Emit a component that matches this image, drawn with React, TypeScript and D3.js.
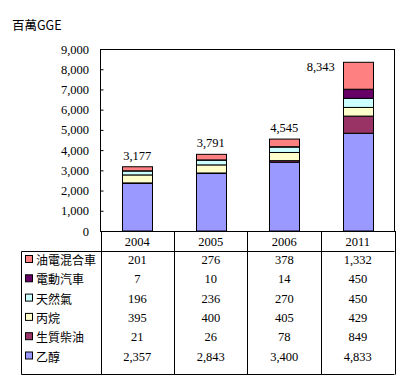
import React, { useEffect, useRef } from 'react';
import * as d3 from 'd3';

// data (million GGE)
const years = ['2004', '2005', '2006', '2011'];
const seriesNames = ['乙醇', '生質柴油', '丙烷', '天然氣', '電動汽車', '油電混合車'];
const seriesColors = ['#9999FF', '#993366', '#FFFFCC', '#CCFFFF', '#660066', '#FF8080'];
const ethanol = [2357, 2843, 3400, 4833];
const biodiesel = [21, 26, 78, 849];
const propane = [395, 400, 405, 429];
const naturalGas = [196, 236, 270, 450];
const electric = [7, 10, 14, 450];
const hybrid = [201, 276, 378, 1332];
const yTicks = [0, 1000, 2000, 3000, 4000, 5000, 6000, 7000, 8000, 9000];

const numFont = '"Liberation Serif", "DejaVu Serif", serif';
const cjkFont = '"Noto Sans CJK TC", "Noto Sans CJK SC", sans-serif';

export default function App() {
    const ref = useRef<SVGSVGElement>(null);

    useEffect(() => {
        const svg = d3.select(ref.current);
        svg.selectAll('*').remove();

        const left = 100.5, right = 394.5, top = 49, bottom = 231;
        const seriesValues = [ethanol, biodiesel, propane, naturalGas, electric, hybrid];

        const rows = years.map((yr, i) => {
            const r: any = { year: yr };
            seriesNames.forEach((n, k) => { r[n] = seriesValues[k][i]; });
            return r;
        });
        const stacked = d3.stack().keys(seriesNames)(rows);

        var x = d3.scaleBand().domain(years).range([left, right])
            .paddingInner(0.592).paddingOuter(0.296);
        var y = d3.scaleLinear().domain([0, 9000]).range([bottom, top]);

        // unit title
        svg.append('text')
            .attr('x', 12).attr('y', 30)
            .style('font-family', cjkFont).style('font-size', '12.5px')
            .text('百萬GGE');

        // plot frame
        svg.append('rect')
            .attr('x', left).attr('y', top + 0.5)
            .attr('width', right - left).attr('height', bottom - top)
            .attr('fill', 'none').attr('stroke', '#000');

        // y axis
        var yAxis = svg.append('g').attr('transform', `translate(${left},0)`)
            .call(d3.axisRight(y).tickValues(yTicks).tickSize(3).tickFormat(() => ''));
        yAxis.select('.domain').remove();
        yAxis.selectAll('line').attr('stroke', '#000');
        svg.append('g').selectAll('text').data(yTicks).enter().append('text')
            .attr('x', 89).attr('y', d => y(d) + 4.5)
            .attr('text-anchor', 'end')
            .style('font-family', numFont).style('font-size', '12.5px')
            .text(d => d3.format(',')(d));

        // bars
        const layers = svg.append('g').selectAll('g').data(stacked).enter().append('g')
            .attr('fill', (_, i) => seriesColors[i]);
        layers.selectAll('rect').data(d => d).enter().append('rect')
            .attr('x', (d: any) => Math.round(x(d.data.year)!) + 0.5)
            .attr('y', d => y(d[1]))
            .attr('width', Math.round(x.bandwidth()))
            .attr('height', d => y(d[0]) - y(d[1]))
            .attr('stroke', '#000').attr('stroke-width', 1);

        // totals
        const totals = years.map((_, i) => d3.sum(seriesValues, s => s[i]));
        svg.append('g').selectAll('text').data(totals).enter().append('text')
            .attr('x', (d, i) => i === 3 ? x(years[i])! - 8 : x(years[i])! + x.bandwidth() / 2)
            .attr('y', (d, i) => i === 3 ? y(d) + 9 : y(d) - 7)
            .attr('text-anchor', (d, i) => i === 3 ? 'end' : 'middle')
            .style('font-family', numFont).style('font-size', '12.5px')
            .text(d => d3.format(',')(d));

        // data table
        const tLeft = 21.5, hdrBottom = 251.5, tBottom = 374.5, rowH = 19.3;
        const colEdges = years.map(yr => x(yr)! - x.step() * x.paddingInner() / 2);
        colEdges.push(right);

        const grid = svg.append('g').attr('stroke', '#000').attr('fill', 'none');
        grid.append('line').attr('x1', tLeft).attr('x2', right).attr('y1', hdrBottom).attr('y2', hdrBottom);
        grid.append('line').attr('x1', tLeft).attr('x2', right).attr('y1', tBottom).attr('y2', tBottom);
        grid.append('line').attr('x1', tLeft).attr('x2', tLeft).attr('y1', hdrBottom).attr('y2', tBottom);
        colEdges.forEach(cx => {
            grid.append('line').attr('x1', Math.round(cx) + 0.5).attr('x2', Math.round(cx) + 0.5)
                .attr('y1', bottom).attr('y2', tBottom);
        });

        svg.append('g').selectAll('text').data(years).enter().append('text')
            .attr('x', d => x(d)! + x.bandwidth() / 2).attr('y', 246)
            .attr('text-anchor', 'middle')
            .style('font-family', numFont).style('font-size', '12.5px')
            .text(d => d);

        // rows top to bottom: reverse of stacking order
        const order = d3.range(seriesNames.length).reverse();
        order.forEach((k, r) => {
            const cy = 260 + r * rowH;
            svg.append('rect')
                .attr('x', 25.5).attr('y', cy - 4.5).attr('width', 7).attr('height', 7)
                .attr('fill', seriesColors[k]).attr('stroke', '#000');
            svg.append('text')
                .attr('x', 36).attr('y', cy + 5)
                .style('font-family', cjkFont).style('font-size', '12px')
                .text(seriesNames[k]);
            svg.append('g').selectAll('text').data(seriesValues[k]).enter().append('text')
                .attr('x', (d, i) => x(years[i])! + x.bandwidth() / 2)
                .attr('y', cy + 4)
                .attr('text-anchor', 'middle')
                .style('font-family', numFont).style('font-size', '12.5px')
                .text(d => d3.format(',')(d));
        });
    }, []);

    return (
        <svg ref={ref} width={412} height={385}
            style={{ position: 'absolute', left: 0, top: 0, background: '#fff' }} />
    );
}
